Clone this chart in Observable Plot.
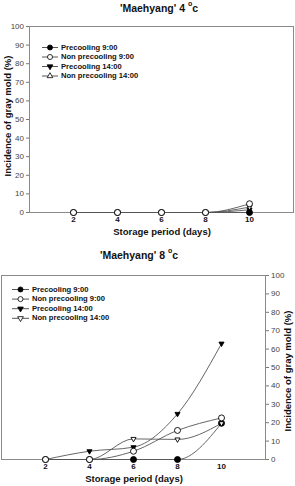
<!DOCTYPE html>
<html>
<head>
<meta charset="utf-8">
<script src="https://cdn.jsdelivr.net/npm/d3@7"></script>
<script src="https://cdn.jsdelivr.net/npm/@observablehq/plot@0.6"></script>
<style>
  html, body { margin: 0; padding: 0; background: #fff; }
  #page { position: relative; width: 295px; height: 486px; overflow: hidden;
          font-family: "Liberation Sans", Arial, sans-serif; }
  .panel { position: absolute; left: 0; }
  .title { position: absolute; font-weight: bold; font-size: 10.5px; white-space: nowrap;
           transform: translateX(-50%); color: #111; }
  .title sup { font-size: 7px; position: relative; top: -1px; }
  svg text { font-family: "Liberation Sans", Arial, sans-serif; }
</style>
</head>
<body>
<div id="page"></div>
<script>
// Storage days on the x axis and tick values
const days = [2, 4, 6, 8, 10];
const xTicks = [2, 4, 6, 8, 10];
const yTicks = [0, 10, 20, 30, 40, 50, 60, 70, 80, 90, 100];

// Treatment names (legend order)
const treatments = ["Precooling 9:00", "Non precooling 9:00", "Precooling 14:00", "Non precooling 14:00"];

// Incidence of gray mold (%) stored at 4 °C
const pre9_4c   = [0, 0, 0, 0, 0];
const non9_4c   = [0, 0, 0, 0, 4.7];
const pre14_4c  = [0, 0, 0, 0, 1.5];
const non14_4c  = [0, 0, 0, 0, 2.9];

// Incidence of gray mold (%) stored at 8 °C
const pre9_8c   = [0, 0, 0, 0, 19.7];
const non9_8c   = [0, 0, 4.5, 15.8, 22.6];
const pre14_8c  = [0, 4.5, 6.7, 24.8, 63];
const non14_8c  = [0, 0, 11.2, 10.9, 19.7];

// Marker style per treatment
const styleOf = {
  "Precooling 9:00":      {symbol: "circle",   filled: true,  rotate: 0},
  "Non precooling 9:00":  {symbol: "circle",   filled: false, rotate: 0},
  "Precooling 14:00":     {symbol: "triangle", filled: true,  rotate: 180},
  "Non precooling 14:00": {symbol: "triangle", filled: false, rotate: 180}
};
// Drawing order so the open circles end up on top
const drawOrder = ["Precooling 9:00", "Precooling 14:00", "Non precooling 14:00", "Non precooling 9:00"];

function rows(seriesArrays) {
  const out = [];
  treatments.forEach((t, i) => {
    days.forEach((d, j) => out.push({treatment: t, day: d, value: seriesArrays[i][j]}));
  });
  return out;
}

function panel({data, top, height, marginTop, marginBottom, marginLeft, marginRight, yAnchor}) {
  const marks = [];
  // axis frame
  marks.push(Plot.frame({stroke: "#8a8a8a", strokeWidth: 1}));
  // connecting curves
  for (const t of drawOrder) {
    marks.push(Plot.line(data.filter(d => d.treatment === t), {
      x: "day", y: "value", curve: "monotone-x", stroke: "#555", strokeWidth: 0.9
    }));
  }
  // markers
  for (const t of drawOrder) {
    const s = styleOf[t];
    marks.push(Plot.dot(data.filter(d => d.treatment === t), {
      x: "day", y: "value", symbol: s.symbol, rotate: s.rotate,
      r: s.symbol === "circle" ? 3 : 1.9,
      fill: s.filled ? "#000" : "#fff", stroke: "#000", strokeWidth: 0.9
    }));
  }
  marks.push(Plot.axisX({
    ticks: xTicks, tickSize: 0, tickPadding: 4, fontSize: 8, fontWeight: "bold",
    label: null, fill: "#111"
  }));
  marks.push(Plot.axisY({
    anchor: yAnchor, ticks: yTicks, tickSize: 3, tickPadding: 2.5, fontSize: 8,
    label: null, stroke: "#777", fill: "#444"
  }));
  const chart = Plot.plot({
    width: 295, height,
    marginTop, marginBottom, marginLeft, marginRight,
    x: {domain: [0, 12]},
    y: {domain: [0, 100]},
    style: {background: "transparent", overflow: "visible"},
    marks
  });
  chart.classList.add("panel");
  chart.style.top = top + "px";
  return chart;
}

function addText(svg, {x, y, text, rotate = 0, size = 9, anchor = "middle"}) {
  d3.select(svg).append("text")
    .attr("transform", `translate(${x},${y}) rotate(${rotate})`)
    .attr("text-anchor", anchor)
    .attr("dominant-baseline", "middle")
    .attr("font-size", size)
    .attr("font-weight", "bold")
    .attr("fill", "#111")
    .text(text);
}

function addLegend(svg, {x0, y0, dy, lineLen, textGap, lastUp}) {
  const g = d3.select(svg).append("g").attr("text-anchor", "start");
  treatments.forEach((t, i) => {
    const s = styleOf[t];
    const y = y0 + i * dy;
    g.append("line").attr("x1", x0).attr("x2", x0 + lineLen).attr("y1", y).attr("y2", y)
      .attr("stroke", "#444").attr("stroke-width", 0.9);
    const sym = s.symbol === "circle" ? d3.symbolCircle : d3.symbolTriangle;
    const size = s.symbol === "circle" ? 20 : 14;
    let rot = s.rotate;
    if (lastUp && i === 3) rot = 0;
    g.append("path").attr("d", d3.symbol(sym, size)())
      .attr("transform", `translate(${x0 + lineLen / 2},${y}) rotate(${rot})`)
      .attr("fill", s.filled ? "#000" : "#fff").attr("stroke", "#000").attr("stroke-width", 0.8);
    g.append("text").attr("x", x0 + lineLen + textGap).attr("y", y)
      .attr("text-anchor", "start")
      .attr("dominant-baseline", "middle").attr("font-size", 7.6).attr("font-weight", "bold")
      .attr("fill", "#111").text(t);
  });
}

const page = document.getElementById("page");

// 4 °C panel
const top4 = panel({
  data: rows([pre9_4c, non9_4c, pre14_4c, non14_4c]),
  top: 0, height: 240, marginTop: 26, marginBottom: 28, marginLeft: 29, marginRight: 2,
  yAnchor: "left"
});
page.appendChild(top4);
addText(top4, {x: 162, y: 232, text: "Storage period (days)", size: 9.5});
addText(top4, {x: 8, y: 116, text: "Incidence of gray mold (%)", rotate: -90, size: 9.5});
addLegend(top4, {x0: 42, y0: 47.5, dy: 9.5, lineLen: 16, textGap: 3, lastUp: true});

// 8 °C panel
const bot8 = panel({
  data: rows([pre9_8c, non9_8c, pre14_8c, non14_8c]),
  top: 240, height: 246, marginTop: 35, marginBottom: 27, marginLeft: 1, marginRight: 30,
  yAnchor: "right"
});
page.appendChild(bot8);
addText(bot8, {x: 134, y: 239, text: "Storage period (days)", size: 9.5});
addText(bot8, {x: 288, y: 131, text: "Incidence of gray mold (%)", rotate: -90, size: 9.5});
addLegend(bot8, {x0: 12, y0: 49.5, dy: 9.6, lineLen: 17, textGap: 3, lastUp: false});

// Panel titles
function addTitle(x, y, temp) {
  const div = document.createElement("div");
  div.className = "title";
  div.style.left = x + "px";
  div.style.top = (y - 7) + "px";
  div.innerHTML = `'Maehyang' ${temp} <sup>o</sup>c`;
  page.appendChild(div);
}
addTitle(159, 8, 4);
addTitle(139, 255, 8);
</script>
</body>
</html>
